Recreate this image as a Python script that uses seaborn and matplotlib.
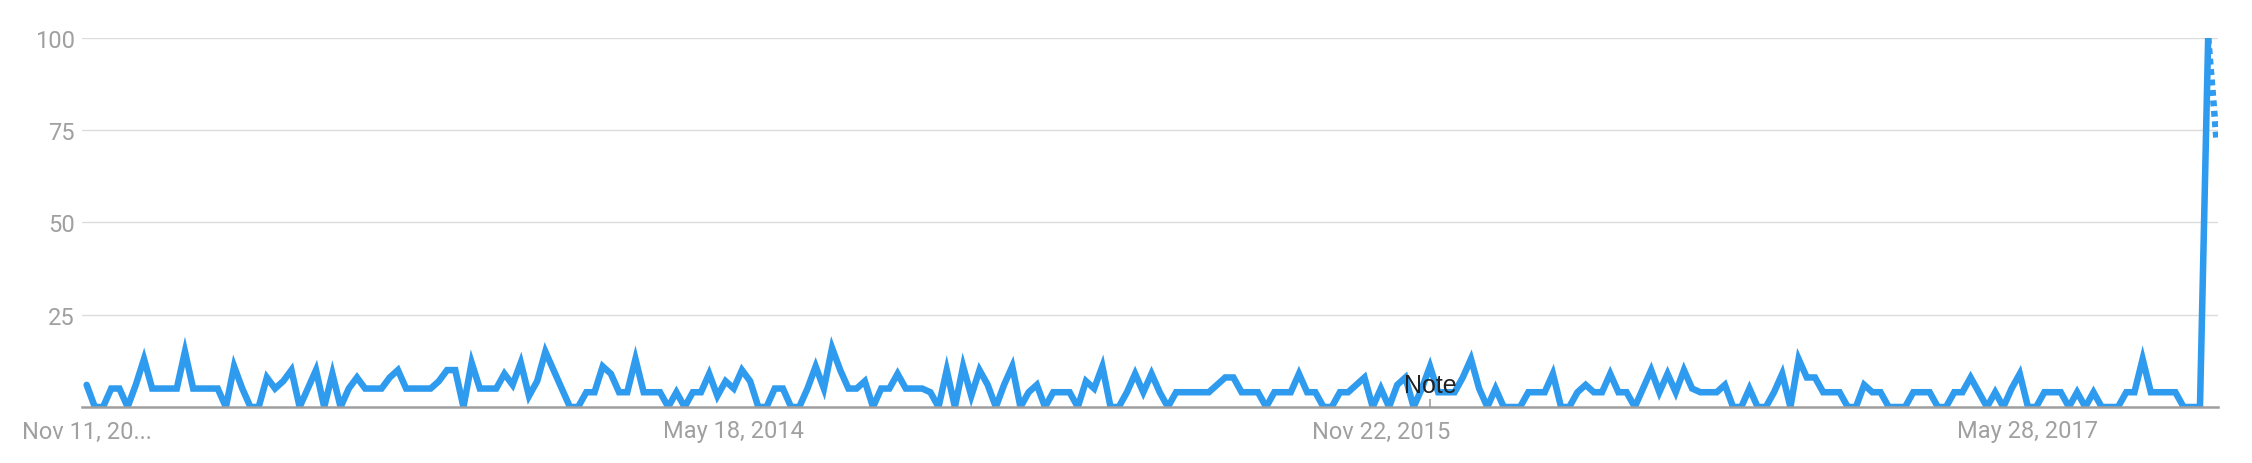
import numpy as np
import pandas as pd
import seaborn as sns
from matplotlib import pyplot as plt

# weekly interest, Google Trends style (0-100), first week Nov 11, 2012
interest = [
    6, 0, 0, 5, 5, 0, 6, 13, 5, 5, 5, 5, 15, 5, 5, 5, 5, 0, 11, 5,
    0, 0, 8, 5, 7, 10, 0, 5, 10, 0, 9, 0, 5, 8, 5, 5, 5, 8, 10, 5,
    5, 5, 5, 7, 10, 10, 0, 12, 5, 5, 5, 9, 6, 12, 3, 7, 15, 10, 5, 0,
    0, 4, 4, 11, 9, 4, 4, 13, 4, 4, 4, 0, 4, 0, 4, 4, 9, 3, 7, 5,
    10, 7, 0, 0, 5, 5, 0, 0, 5, 11, 5, 16, 10, 5, 5, 7, 0, 5, 5, 9,
    5, 5, 5, 4, 0, 10, 0, 11, 3, 10, 6, 0, 6, 11, 0, 4, 6, 0, 4, 4,
    4, 0, 7, 5, 11, 0, 0, 4, 9, 4, 9, 4, 0, 4, 4, 4, 4, 4, 6, 8,
    8, 4, 4, 4, 0, 4, 4, 4, 9, 4, 4, 0, 0, 4, 4, 6, 8, 0, 5, 0,
    6, 8, 0, 5, 11, 4, 4, 4, 8, 13, 5, 0, 5, 0, 0, 0, 4, 4, 4, 9,
    0, 0, 4, 6, 4, 4, 9, 4, 4, 0, 5, 10, 4, 9, 4, 10, 5, 4, 4, 4,
    6, 0, 0, 5, 0, 0, 4, 9, 0, 13, 8, 8, 4, 4, 4, 0, 0, 6, 4, 4,
    0, 0, 0, 4, 4, 4, 0, 0, 4, 4, 8, 4, 0, 4, 0, 5, 9, 0, 0, 4,
    4, 4, 0, 4, 0, 4, 0, 0, 0, 4, 4, 13, 4, 4, 4, 4, 0, 0, 0, 100,
]
partial_value = 73  # last, incomplete week (dotted)
start_date = '2012-11-11'
note_week = 164
note_label = 'Note'

tick_dates = ['2012-11-11', '2014-05-18', '2015-11-22', '2017-05-28']
tick_labels = ['Nov 11, 20...', 'May 18, 2014', 'Nov 22, 2015', 'May 28, 2017']
y_ticks = [25, 50, 75, 100]

line_color = '#2f9bef'
label_color = '#a0a0a0'

dates = pd.date_range(start_date, periods=len(interest), freq='7D')
df = pd.DataFrame({'week': dates, 'value': interest})
df_partial = pd.DataFrame({'week': [dates[-1], dates[-1] + pd.Timedelta(days=7)],
                           'value': [interest[-1], partial_value]})

sns.set_theme(style='white')
plt.rcParams['font.family'] = ['Roboto', 'DejaVu Sans']

fig = plt.figure(figsize=(22.52, 4.64), dpi=100)
ax = fig.add_axes([0.0364, 0.1207, 0.9485, 0.7953])

sns.lineplot(data=df, x='week', y='value', ax=ax, color=line_color, linewidth=4.7,
             solid_joinstyle='miter', zorder=3)
sns.lineplot(data=df_partial, x='week', y='value', ax=ax, color=line_color, linewidth=4.7,
             linestyle=(0, (0.9, 0.7)), zorder=3)

ax.set_ylim(0, 100)
ax.set_xlim(dates[0] - pd.Timedelta(days=4), dates[0] + pd.Timedelta(weeks=260.2))

ax.set_yticks(y_ticks)
ax.set_yticklabels([str(v) for v in y_ticks])
ax.set_xticks(pd.to_datetime(tick_dates))
ax.set_xticklabels(tick_labels)
ax.tick_params(axis='both', length=0, labelsize=17, labelcolor=label_color)
ax.tick_params(axis='x', pad=9)
ax.tick_params(axis='y', pad=5)

ax.grid(axis='y', color='#dcdcdc', linewidth=1.0)
ax.grid(axis='x', visible=False)
for side in ['top', 'right', 'left']:
    ax.spines[side].set_visible(False)
ax.spines['bottom'].set_color('#9e9e9e')
ax.spines['bottom'].set_linewidth(1.8)
ax.spines['bottom'].set_zorder(4)

# note marker
ax.vlines(dates[note_week], 0, 2.2, color='#9e9e9e', linewidth=1.2, zorder=4)
ax.annotate(note_label, xy=(dates[note_week], 0), xytext=(0, 16), textcoords='offset points',
            ha='center', va='center', fontsize=18, color='#222222',
            family=['Liberation Sans', 'DejaVu Sans'], zorder=5)

ax.set_xlabel('')
ax.set_ylabel('')

plt.savefig('out.png', dpi=100)
